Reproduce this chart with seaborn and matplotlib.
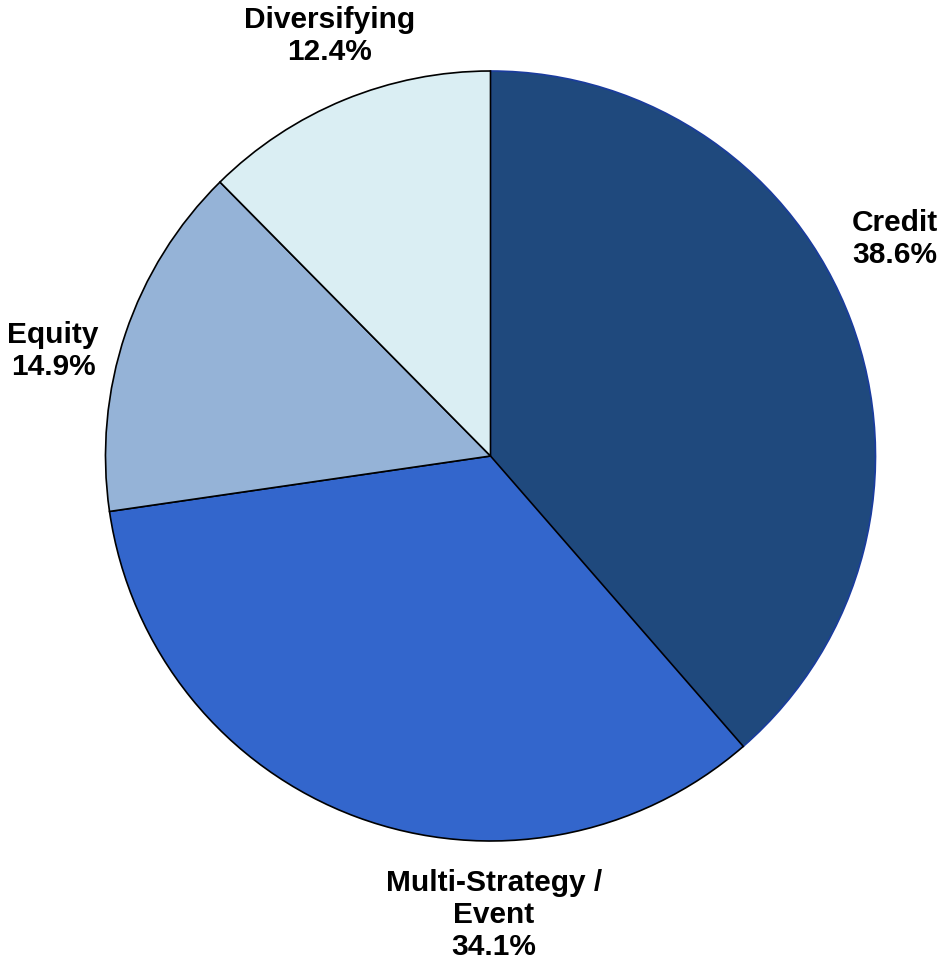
import matplotlib
matplotlib.use("Agg")
import matplotlib.pyplot as plt
import seaborn as sns

categories = ["Credit", "Multi-Strategy /\nEvent", "Equity", "Diversifying"]
shares = [38.6, 34.1, 14.9, 12.4]
colors = ["#1F497D", "#3366CC", "#95B3D7", "#DAEEF3"]
edge_colors = ["#1A3C9E", "black", "black", "black"]

# label placement (data coords, pie radius = 1)
label_pos = [(1.051, 0.564), (0.009, -1.192), (-1.136, 0.273), (-0.419, 1.091)]

sns.set_style("white")
plt.rcParams["font.family"] = ["Liberation Sans", "DejaVu Sans"]

fig = plt.figure(figsize=(9.43, 9.66), dpi=100)
ax = fig.add_axes([105.5 / 943, (966 - 841) / 966, 770 / 943, 770 / 966])

wedges, _ = ax.pie(
    shares,
    colors=sns.color_palette(colors),
    startangle=90,
    counterclock=False,
    radius=1,
    wedgeprops=dict(linewidth=1.2),
)
for w, ec in zip(wedges, edge_colors):
    w.set_edgecolor(ec)

for name, val, (x, y) in zip(categories, shares, label_pos):
    ax.text(x, y, f"{name}\n{val:.1f}%", ha="center", va="center",
            fontsize=21.5, fontweight="bold", linespacing=1.18, color="black")

ax.set_xlim(-1, 1)
ax.set_ylim(-1, 1)
ax.set_aspect("equal")
ax.axis("off")

plt.savefig("out.png", dpi=100)
plt.close()
